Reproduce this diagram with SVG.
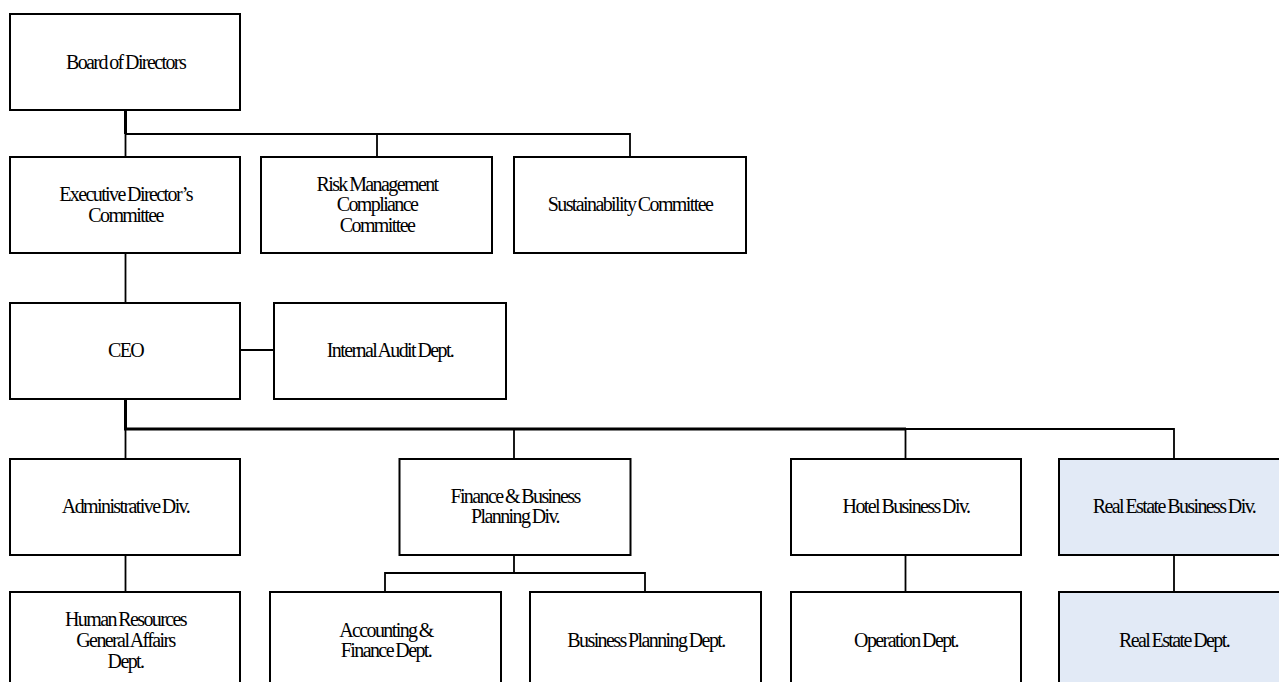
<svg xmlns="http://www.w3.org/2000/svg" width="1279" height="682" viewBox="0 0 1279 682">
<style>
.box{fill:#ffffff;stroke:#000000;stroke-width:2}
.blue{fill:#E2EAF6}
.t{font-family:"Liberation Serif","Times New Roman",serif;font-size:20px;letter-spacing:-1.6px;word-spacing:-1px;text-anchor:middle;fill:#000000}
.c{stroke:#000000;stroke-width:1.8;fill:none}
.k{stroke:#000000;stroke-width:3;fill:none}
</style>
<rect width="1279" height="682" fill="#ffffff"/>
<g id="connectors">
<line class="k" x1="125.5" y1="110" x2="125.5" y2="134"/>
<polyline class="c" points="125.5,134 630,134 630,157"/>
<line class="c" x1="125.5" y1="134" x2="125.5" y2="157"/>
<line class="c" x1="377" y1="134" x2="377" y2="157"/>
<line class="c" x1="125.5" y1="253" x2="125.5" y2="303"/>
<line class="c" x1="240" y1="350" x2="274" y2="350"/>
<line class="k" x1="125.5" y1="399" x2="125.5" y2="429"/>
<line class="k" x1="124" y1="429" x2="906" y2="429"/>
<polyline class="c" points="905,429 1174,429 1174,459"/>
<line class="c" x1="125.5" y1="429" x2="125.5" y2="459"/>
<line class="c" x1="514" y1="429" x2="514" y2="459"/>
<line class="c" x1="905.5" y1="429" x2="905.5" y2="459"/>
<line class="c" x1="125.5" y1="555" x2="125.5" y2="592"/>
<line class="c" x1="514" y1="555" x2="514" y2="573"/>
<polyline class="c" points="385,592 385,573 645,573 645,592"/>
<line class="c" x1="905.5" y1="555" x2="905.5" y2="592"/>
<line class="c" x1="1174" y1="555" x2="1174" y2="592"/>
</g>
<g id="board">
<rect class="box" x="10" y="14" width="230" height="96"/>
<text class="t" x="125.5" y="69">Board of Directors</text>
</g>
<g id="exec">
<rect class="box" x="10" y="157" width="230" height="96"/>
<text class="t" x="125.5" y="201">Executive Director’s</text>
<text class="t" x="125.5" y="222">Committee</text>
</g>
<g id="risk">
<rect class="box" x="261" y="157" width="231" height="96"/>
<text class="t" x="377" y="191">Risk Management</text>
<text class="t" x="377" y="211">Compliance</text>
<text class="t" x="377" y="232">Committee</text>
</g>
<g id="sustainability">
<rect class="box" x="514" y="157" width="232" height="96"/>
<text class="t" x="630" y="211">Sustainability Committee</text>
</g>
<g id="ceo">
<rect class="box" x="10" y="303" width="230" height="96"/>
<text class="t" x="125.5" y="357">CEO</text>
</g>
<g id="audit">
<rect class="box" x="274" y="303" width="232" height="96"/>
<text class="t" x="390" y="357">Internal Audit Dept.</text>
</g>
<g id="admin">
<rect class="box" x="10" y="459" width="230" height="96"/>
<text class="t" x="125.5" y="513">Administrative Div.</text>
</g>
<g id="finance">
<rect class="box" x="399.5" y="459" width="231" height="96"/>
<text class="t" x="515" y="503">Finance &amp; Business</text>
<text class="t" x="515" y="523">Planning Div.</text>
</g>
<g id="hotel">
<rect class="box" x="791" y="459" width="230" height="96"/>
<text class="t" x="906" y="513">Hotel Business Div.</text>
</g>
<g id="realestatediv">
<rect class="box blue" x="1059" y="459" width="232" height="96"/>
<text class="t" x="1174" y="513">Real Estate Business Div.</text>
</g>
<g id="hr">
<rect class="box" x="10" y="592" width="230" height="100"/>
<text class="t" x="125.5" y="626">Human Resources</text>
<text class="t" x="125.5" y="647">General Affairs</text>
<text class="t" x="125.5" y="668">Dept.</text>
</g>
<g id="accounting">
<rect class="box" x="270" y="592" width="231" height="100"/>
<text class="t" x="386" y="637">Accounting &amp;</text>
<text class="t" x="386" y="657">Finance Dept.</text>
</g>
<g id="planning">
<rect class="box" x="530" y="592" width="231" height="100"/>
<text class="t" x="646" y="647">Business Planning Dept.</text>
</g>
<g id="operation">
<rect class="box" x="791" y="592" width="230" height="100"/>
<text class="t" x="906" y="647">Operation Dept.</text>
</g>
<g id="realestatedept">
<rect class="box blue" x="1059" y="592" width="232" height="100"/>
<text class="t" x="1174" y="647">Real Estate Dept.</text>
</g>
</svg>
